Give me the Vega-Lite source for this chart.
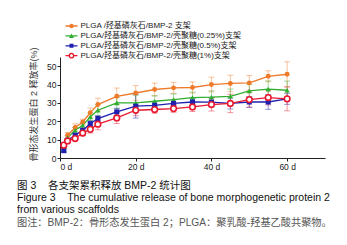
{
  "$schema": "https://vega.github.io/schema/vega-lite/v6.json",
  "autosize": {"type": "none"},
  "padding": {"left": 60, "top": 57, "right": 22, "bottom": 87},
  "width": 265,
  "height": 101,
  "background": "white",
  "config": {
    "view": {"stroke": null},
    "font": "Liberation Sans, Noto Sans CJK SC",
    "axis": {"domainColor": "#222", "tickColor": "#222", "labelColor": "#222", "grid": false, "labelFont": "Liberation Sans", "labelFontSize": 8.5, "tickSize": 3, "labelPadding": 1}
  },
  "title": {
    "text": ["图 3\u00a0\u00a0\u00a0\u00a0各支架累积释放 BMP-2 统计图", "Figure 3\u00a0\u00a0\u00a0\u00a0The cumulative release of bone morphogenetic protein 2", "from various scaffolds"],
    "subtitle": "图注：BMP-2：骨形态发生蛋白 2；PLGA：聚乳酸-羟基乙酸共聚物。",
    "orient": "bottom", "anchor": "start", "frame": "group", "dx": -43, "offset": 10,
    "font": "Liberation Sans, Noto Sans CJK SC", "fontSize": 10.5, "fontWeight": "normal", "color": "#111", "lineHeight": 12.3,
    "subtitleFont": "Liberation Sans, Noto Sans CJK SC", "subtitleFontSize": 10.2, "subtitleColor": "#555", "subtitlePadding": 2
  },
  "data": {"values": [
    {"s": "PLGA /羟基磷灰石/BMP-2 支架", "d": 1, "v": 6.5, "e": 1},
    {"s": "PLGA /羟基磷灰石/BMP-2 支架", "d": 2, "v": 12.4, "e": 1.5},
    {"s": "PLGA /羟基磷灰石/BMP-2 支架", "d": 4, "v": 16.6, "e": 2},
    {"s": "PLGA /羟基磷灰石/BMP-2 支架", "d": 6, "v": 19.6, "e": 1.5},
    {"s": "PLGA /羟基磷灰石/BMP-2 支架", "d": 8, "v": 24.7, "e": 2.5},
    {"s": "PLGA /羟基磷灰石/BMP-2 支架", "d": 10, "v": 29.1, "e": 3.5},
    {"s": "PLGA /羟基磷灰石/BMP-2 支架", "d": 15, "v": 33.6, "e": 4.5},
    {"s": "PLGA /羟基磷灰石/BMP-2 支架", "d": 20, "v": 35.4, "e": 4},
    {"s": "PLGA /羟基磷灰石/BMP-2 支架", "d": 25, "v": 37.3, "e": 3.5},
    {"s": "PLGA /羟基磷灰石/BMP-2 支架", "d": 30, "v": 38.2, "e": 3},
    {"s": "PLGA /羟基磷灰石/BMP-2 支架", "d": 35, "v": 38.4, "e": 3},
    {"s": "PLGA /羟基磷灰石/BMP-2 支架", "d": 40, "v": 40.0, "e": 4},
    {"s": "PLGA /羟基磷灰石/BMP-2 支架", "d": 45, "v": 40.6, "e": 4.5},
    {"s": "PLGA /羟基磷灰石/BMP-2 支架", "d": 50, "v": 40.9, "e": 4},
    {"s": "PLGA /羟基磷灰石/BMP-2 支架", "d": 55, "v": 44.5, "e": 3},
    {"s": "PLGA /羟基磷灰石/BMP-2 支架", "d": 60, "v": 45.6, "e": 6.8},
    {"s": "PLGA/羟基磷灰石/BMP-2/壳聚糖(0.25%)支架", "d": 1, "v": 4.5, "e": 1},
    {"s": "PLGA/羟基磷灰石/BMP-2/壳聚糖(0.25%)支架", "d": 2, "v": 11.1, "e": 1},
    {"s": "PLGA/羟基磷灰石/BMP-2/壳聚糖(0.25%)支架", "d": 4, "v": 15.1, "e": 1.5},
    {"s": "PLGA/羟基磷灰石/BMP-2/壳聚糖(0.25%)支架", "d": 6, "v": 17.8, "e": 1.5},
    {"s": "PLGA/羟基磷灰石/BMP-2/壳聚糖(0.25%)支架", "d": 8, "v": 22.4, "e": 2},
    {"s": "PLGA/羟基磷灰石/BMP-2/壳聚糖(0.25%)支架", "d": 10, "v": 26.0, "e": 3},
    {"s": "PLGA/羟基磷灰石/BMP-2/壳聚糖(0.25%)支架", "d": 15, "v": 30.0, "e": 3},
    {"s": "PLGA/羟基磷灰石/BMP-2/壳聚糖(0.25%)支架", "d": 20, "v": 30.0, "e": 4},
    {"s": "PLGA/羟基磷灰石/BMP-2/壳聚糖(0.25%)支架", "d": 25, "v": 30.9, "e": 3},
    {"s": "PLGA/羟基磷灰石/BMP-2/壳聚糖(0.25%)支架", "d": 30, "v": 31.8, "e": 3},
    {"s": "PLGA/羟基磷灰石/BMP-2/壳聚糖(0.25%)支架", "d": 35, "v": 32.9, "e": 3},
    {"s": "PLGA/羟基磷灰石/BMP-2/壳聚糖(0.25%)支架", "d": 40, "v": 33.1, "e": 3.5},
    {"s": "PLGA/羟基磷灰石/BMP-2/壳聚糖(0.25%)支架", "d": 45, "v": 33.6, "e": 4},
    {"s": "PLGA/羟基磷灰石/BMP-2/壳聚糖(0.25%)支架", "d": 50, "v": 36.5, "e": 3.5},
    {"s": "PLGA/羟基磷灰石/BMP-2/壳聚糖(0.25%)支架", "d": 55, "v": 37.5, "e": 4.5},
    {"s": "PLGA/羟基磷灰石/BMP-2/壳聚糖(0.25%)支架", "d": 60, "v": 36.9, "e": 5},
    {"s": "PLGA/羟基磷灰石/BMP-2/壳聚糖(0.5%)支架", "d": 1, "v": 4.0, "e": 1},
    {"s": "PLGA/羟基磷灰石/BMP-2/壳聚糖(0.5%)支架", "d": 2, "v": 9.6, "e": 1},
    {"s": "PLGA/羟基磷灰石/BMP-2/壳聚糖(0.5%)支架", "d": 4, "v": 12.4, "e": 1},
    {"s": "PLGA/羟基磷灰石/BMP-2/壳聚糖(0.5%)支架", "d": 6, "v": 15.1, "e": 1},
    {"s": "PLGA/羟基磷灰石/BMP-2/壳聚糖(0.5%)支架", "d": 8, "v": 18.7, "e": 1.5},
    {"s": "PLGA/羟基磷灰石/BMP-2/壳聚糖(0.5%)支架", "d": 10, "v": 21.5, "e": 1.5},
    {"s": "PLGA/羟基磷灰石/BMP-2/壳聚糖(0.5%)支架", "d": 15, "v": 25.1, "e": 2},
    {"s": "PLGA/羟基磷灰石/BMP-2/壳聚糖(0.5%)支架", "d": 20, "v": 28.2, "e": 6.5},
    {"s": "PLGA/羟基磷灰石/BMP-2/壳聚糖(0.5%)支架", "d": 25, "v": 28.7, "e": 2},
    {"s": "PLGA/羟基磷灰石/BMP-2/壳聚糖(0.5%)支架", "d": 30, "v": 29.7, "e": 2},
    {"s": "PLGA/羟基磷灰石/BMP-2/壳聚糖(0.5%)支架", "d": 35, "v": 30.5, "e": 2},
    {"s": "PLGA/羟基磷灰石/BMP-2/壳聚糖(0.5%)支架", "d": 40, "v": 30.4, "e": 2.5},
    {"s": "PLGA/羟基磷灰石/BMP-2/壳聚糖(0.5%)支架", "d": 45, "v": 29.7, "e": 3},
    {"s": "PLGA/羟基磷灰石/BMP-2/壳聚糖(0.5%)支架", "d": 50, "v": 30.5, "e": 3},
    {"s": "PLGA/羟基磷灰石/BMP-2/壳聚糖(0.5%)支架", "d": 55, "v": 30.5, "e": 4},
    {"s": "PLGA/羟基磷灰石/BMP-2/壳聚糖(0.5%)支架", "d": 60, "v": 32.2, "e": 3},
    {"s": "PLGA/羟基磷灰石/BMP-2/壳聚糖(1%)支架", "d": 1, "v": 7.0, "e": 1},
    {"s": "PLGA/羟基磷灰石/BMP-2/壳聚糖(1%)支架", "d": 2, "v": 9.3, "e": 1},
    {"s": "PLGA/羟基磷灰石/BMP-2/壳聚糖(1%)支架", "d": 4, "v": 10.6, "e": 1},
    {"s": "PLGA/羟基磷灰石/BMP-2/壳聚糖(1%)支架", "d": 6, "v": 13.6, "e": 1.5},
    {"s": "PLGA/羟基磷灰石/BMP-2/壳聚糖(1%)支架", "d": 8, "v": 15.6, "e": 2},
    {"s": "PLGA/羟基磷灰石/BMP-2/壳聚糖(1%)支架", "d": 10, "v": 18.4, "e": 3},
    {"s": "PLGA/羟基磷灰石/BMP-2/壳聚糖(1%)支架", "d": 15, "v": 21.8, "e": 3},
    {"s": "PLGA/羟基磷灰石/BMP-2/壳聚糖(1%)支架", "d": 20, "v": 26.0, "e": 3},
    {"s": "PLGA/羟基磷灰石/BMP-2/壳聚糖(1%)支架", "d": 25, "v": 26.4, "e": 2},
    {"s": "PLGA/羟基磷灰石/BMP-2/壳聚糖(1%)支架", "d": 30, "v": 26.9, "e": 2},
    {"s": "PLGA/羟基磷灰石/BMP-2/壳聚糖(1%)支架", "d": 35, "v": 27.8, "e": 2.5},
    {"s": "PLGA/羟基磷灰石/BMP-2/壳聚糖(1%)支架", "d": 40, "v": 29.1, "e": 3.5},
    {"s": "PLGA/羟基磷灰石/BMP-2/壳聚糖(1%)支架", "d": 45, "v": 29.7, "e": 5},
    {"s": "PLGA/羟基磷灰石/BMP-2/壳聚糖(1%)支架", "d": 50, "v": 31.8, "e": 4},
    {"s": "PLGA/羟基磷灰石/BMP-2/壳聚糖(1%)支架", "d": 55, "v": 32.9, "e": 4},
    {"s": "PLGA/羟基磷灰石/BMP-2/壳聚糖(1%)支架", "d": 60, "v": 32.2, "e": 6.5}
  ]},
  "encoding": {
    "x": {"field": "d", "type": "quantitative", "scale": {"domain": [0, 70], "nice": false},
      "axis": {"title": null, "values": [0, 20, 40, 60], "labelExpr": "datum.value + ' d'", "labelFlush": true}},
    "y": {"field": "v", "type": "quantitative", "scale": {"domain": [0, 55], "nice": false},
      "axis": {"title": "骨形态发生蛋白 2 释放率(%)", "values": [0, 10, 20, 30, 40, 50], "titleFont": "Liberation Sans, Noto Sans CJK SC", "titleFontSize": 9, "titleFontWeight": "normal", "titleColor": "#333", "titlePadding": 8, "titleY": -10, "titleAlign": "right"}}
  },
  "layer": [
    {
      "mark": {"type": "errorbar", "ticks": {"size": 6}, "opacity": 0.45, "thickness": 1},
      "encoding": {
        "yError": {"field": "e"},
        "color": {"field": "s", "type": "nominal", "legend": null,
          "scale": {"domain": ["PLGA/羟基磷灰石/BMP-2/壳聚糖(1%)支架", "PLGA/羟基磷灰石/BMP-2/壳聚糖(0.5%)支架", "PLGA/羟基磷灰石/BMP-2/壳聚糖(0.25%)支架", "PLGA /羟基磷灰石/BMP-2 支架"], "range": ["#e8182e", "#2020b0", "#2fae2f", "#ee7a2a"]}}
      }
    },
    {
      "mark": {"type": "line", "strokeWidth": 1.3},
      "encoding": {
        "stroke": {"field": "s", "type": "nominal", "legend": null,
          "scale": {"domain": ["PLGA/羟基磷灰石/BMP-2/壳聚糖(1%)支架", "PLGA/羟基磷灰石/BMP-2/壳聚糖(0.5%)支架", "PLGA/羟基磷灰石/BMP-2/壳聚糖(0.25%)支架", "PLGA /羟基磷灰石/BMP-2 支架"], "range": ["#e8182e", "#2020b0", "#2fae2f", "#ee7a2a"]}}
      }
    },
    {
      "transform": [{"filter": "datum.s === 'PLGA /羟基磷灰石/BMP-2 支架'"}],
      "mark": {"type": "point", "shape": "circle", "filled": true, "color": "#ee7a2a", "size": 24, "opacity": 1}
    },
    {
      "transform": [{"filter": "datum.s === 'PLGA/羟基磷灰石/BMP-2/壳聚糖(0.25%)支架'"}],
      "mark": {"type": "point", "shape": "triangle-up", "filled": true, "color": "#2fae2f", "size": 28, "opacity": 1}
    },
    {
      "transform": [{"filter": "datum.s === 'PLGA/羟基磷灰石/BMP-2/壳聚糖(0.5%)支架'"}],
      "mark": {"type": "point", "shape": "square", "filled": true, "color": "#2020b0", "size": 26, "opacity": 1}
    },
    {
      "transform": [{"filter": "datum.s === 'PLGA/羟基磷灰石/BMP-2/壳聚糖(1%)支架'"}],
      "mark": {"type": "point", "shape": "circle", "filled": false, "stroke": "#e8182e", "fill": "white", "strokeWidth": 1.6, "size": 32, "opacity": 1}
    },
    {
      "mark": {"type": "point", "filled": true, "opacity": 0},
      "encoding": {
        "fill": {"field": "s", "type": "nominal",
          "scale": {"domain": ["PLGA /羟基磷灰石/BMP-2 支架", "PLGA/羟基磷灰石/BMP-2/壳聚糖(0.25%)支架", "PLGA/羟基磷灰石/BMP-2/壳聚糖(0.5%)支架", "PLGA/羟基磷灰石/BMP-2/壳聚糖(1%)支架"], "range": ["#ee7a2a", "#2fae2f", "#2020b0", "#e8182e"]},
          "legend": {"orient": "none", "legendX": 6.5, "legendY": -36, "padding": 0, "rowPadding": 0.9, "symbolSize": 100, "symbolStrokeWidth": 0, "symbolOpacity": 1, "labelFontSize": 8, "labelFont": "Liberation Sans, Noto Sans CJK SC", "labelColor": "#222", "labelLimit": 300, "labelOffset": 4, "title": null}},
        "shape": {"field": "s", "type": "nominal",
          "scale": {"domain": ["PLGA /羟基磷灰石/BMP-2 支架", "PLGA/羟基磷灰石/BMP-2/壳聚糖(0.25%)支架", "PLGA/羟基磷灰石/BMP-2/壳聚糖(0.5%)支架", "PLGA/羟基磷灰石/BMP-2/壳聚糖(1%)支架"],
            "range": [
              "M-1.2,-0.13H1.2V0.13H-1.2Z M-0.45,0A0.45,0.45 0 1,1 0.45,0A0.45,0.45 0 1,1 -0.45,0Z",
              "M-1.2,-0.13H1.2V0.13H-1.2Z M0,-0.5L0.5,0.4L-0.5,0.4Z",
              "M-1.2,-0.13H1.2V0.13H-1.2Z M-0.4,-0.4H0.4V0.4H-0.4Z",
              "M-1.2,-0.13H-0.4V0.13H-1.2Z M0.4,-0.13H1.2V0.13H0.4Z M-0.58,0A0.58,0.58 0 1,1 0.58,0A0.58,0.58 0 1,1 -0.58,0Z M-0.3,0A0.3,0.3 0 1,0 0.3,0A0.3,0.3 0 1,0 -0.3,0Z"
            ]},
          "legend": {"orient": "none", "legendX": 6.5, "legendY": -36, "padding": 0, "rowPadding": 0.9, "symbolSize": 100, "symbolStrokeWidth": 0, "symbolOpacity": 1, "labelFontSize": 8, "labelFont": "Liberation Sans, Noto Sans CJK SC", "labelColor": "#222", "labelLimit": 300, "labelOffset": 4, "title": null}}
      }
    }
  ]
}
